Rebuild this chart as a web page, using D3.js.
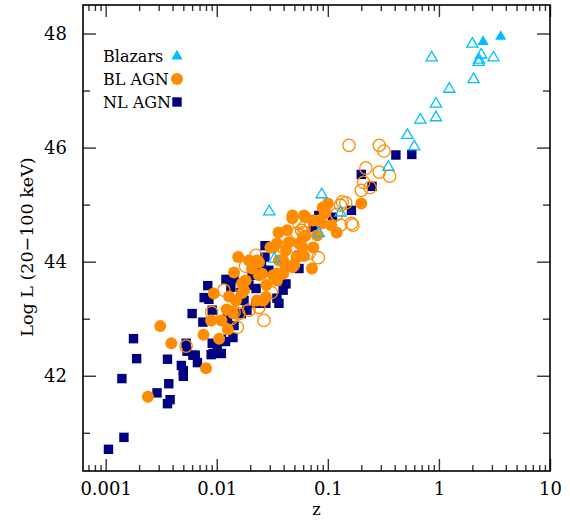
<!DOCTYPE html>
<html>
<head>
<meta charset="utf-8">
<script src="https://cdn.jsdelivr.net/npm/d3@7"></script>
<style>
  body { margin: 0; background: #fff; }
  text { font-family: "DejaVu Serif", serif; fill: #000; }
</style>
</head>
<body>
<script>

// NL AGN (navy squares): redshift and log luminosity
let nlZ = [0.00106, 0.00146, 0.0014, 0.00178, 0.0019, 0.0029, 0.0037, 0.0038, 0.0036, 0.0036,
  0.0048, 0.005, 0.005, 0.0053, 0.0054, 0.0064, 0.006, 0.0083, 0.0077, 0.0085,
  0.0121, 0.0143, 0.0091, 0.0075, 0.0091, 0.0089, 0.011, 0.0101, 0.011, 0.014,
  0.0126, 0.0187, 0.0226, 0.0272, 0.0253, 0.0348, 0.0363, 0.0277, 0.0396, 0.083,
  0.074, 0.0295, 0.0208, 0.0176, 0.0226, 0.41, 0.57, 0.20, 0.25, 0.163,
  0.110, 0.0134, 0.0272, 0.055, 0.042, 0.055, 0.0195, 0.0165, 0.0143, 0.0166,
  0.0093, 0.0061, 0.0067, 0.0125, 0.012];
let nlLum = [40.71, 40.92, 41.95, 42.65, 42.30, 41.70, 41.86, 41.58, 41.51, 42.29,
  42.18, 41.99, 42.09, 42.57, 42.43, 42.36, 43.09, 43.58, 43.37, 43.34,
  43.69, 43.71, 43.15, 42.94, 42.57, 42.37, 42.39, 42.50, 42.64, 42.67,
  43.11, 43.15, 43.53, 44.08, 43.94, 43.36, 43.27, 43.27, 43.50, 44.81,
  44.60, 43.85, 43.76, 43.32, 43.27, 45.87, 45.88, 45.53, 45.32, 44.90,
  44.78, 43.55, 44.28, 44.11, 43.61, 43.88, 43.59, 43.46, 42.88, 43.09,
  42.39, 42.36, 42.23, 43.00, 42.60];

// BL AGN, filled circles
let blZ = [0.0024, 0.0031, 0.0039, 0.008, 0.0076, 0.0089, 0.0094, 0.0123, 0.0105, 0.0126,
  0.0129, 0.0156, 0.0195, 0.0182, 0.0176, 0.0208, 0.024, 0.024, 0.023, 0.0262,
  0.0277, 0.0322, 0.0348, 0.0447, 0.055, 0.063, 0.048, 0.063, 0.0363, 0.042,
  0.0348, 0.0322, 0.0396, 0.072, 0.0524, 0.059, 0.090, 0.082, 0.100, 0.094,
  0.20, 0.12, 0.107, 0.0169, 0.0149, 0.011, 0.0143, 0.028, 0.042, 0.050,
  0.074, 0.061, 0.043, 0.036, 0.048, 0.061, 0.074, 0.094, 0.0304, 0.023,
  0.0396, 0.048, 0.0256, 0.0348, 0.060, 0.080, 0.088, 0.0169, 0.014];
let blLum = [41.63, 42.87, 42.57, 42.13, 42.72, 42.97, 43.44, 43.16, 42.65, 42.81,
  43.39, 44.08, 44.02, 43.67, 43.50, 43.88, 43.99, 43.76, 43.32, 43.32,
  43.38, 44.25, 44.32, 44.34, 44.32, 44.46, 44.76, 44.78, 44.02, 43.90,
  43.67, 43.76, 43.79, 43.88, 44.08, 44.25, 44.95, 44.72, 45.02, 44.88,
  45.02, 44.51, 44.64, 43.62, 43.32, 42.97, 43.81, 43.59, 44.20, 43.94,
  44.25, 44.10, 44.55, 44.51, 44.81, 44.81, 44.72, 44.85, 44.25, 44.02,
  44.02, 43.90, 43.79, 43.79, 44.43, 44.46, 44.67, 43.45, 43.10];

// BL AGN, open circles
let blOpenZ = [0.0053, 0.009, 0.0153, 0.0158, 0.0195, 0.0143, 0.024, 0.058, 0.068, 0.0396,
  0.055, 0.061, 0.053, 0.043, 0.061, 0.074, 0.082, 0.13, 0.168, 0.135,
  0.145, 0.13, 0.155, 0.29, 0.32, 0.22, 0.29, 0.36, 0.21, 0.20,
  0.24, 0.163, 0.12, 0.0182, 0.0226, 0.0116, 0.0266, 0.031, 0.0135];
let blOpenLum = [42.52, 43.11, 42.85, 43.09, 43.15, 43.11, 43.20, 44.55, 44.15, 44.25,
  44.67, 44.51, 44.50, 44.11, 44.60, 44.55, 44.07, 44.64, 44.64, 45.05,
  45.03, 44.99, 46.04, 46.04, 45.94, 45.64, 45.57, 45.50, 45.39, 45.25,
  45.30, 44.67, 44.83, 43.92, 44.11, 43.50, 42.97, 43.46, 43.00];

// Blazars, open and filled triangles
let blzOpenZ = [0.86, 2.0, 2.4, 2.3, 2.28, 3.1, 2.05, 1.24, 0.94, 0.94,
  0.68, 0.52, 0.6, 0.35, 0.088, 0.13, 0.083, 0.0297, 0.033];
let blzOpenLum = [47.58, 47.82, 47.63, 47.54, 47.50, 47.58, 47.20, 47.03, 46.77, 46.53,
  46.49, 46.22, 46.02, 45.66, 45.18, 44.86, 44.50, 44.88, 44.05];
let blzZ = [2.5, 3.6];
let blzLum = [47.86, 47.95];

// axes
let xMajor = [0.001, 0.01, 0.1, 1, 10];
let xTickLabels = ['0.001', '0.01', '0.1', '1', '10'];
let yMajor = [42, 44, 46, 48];
let yMinor = [41, 43, 45, 47];
let legendNames = ['Blazars', 'BL AGN', 'NL AGN'];

let navy = '#000080', orange = '#ff8c00', cyan = '#00bfff';

let pLeft = 83, pRight = 550, pTop = 5, pBottom = 471;

let svg = d3.select('body')
  .append('svg')
  .attr('width', 570)
  .attr('height', 520);

let x = d3.scaleLog().domain([0.000625, 10]).range([pLeft, pRight]);
let y = d3.scaleLinear().domain([40.33, 48.5]).range([pBottom, pTop]);

// minor x ticks 2..9 in each decade
let xMinor = [];
[0.0001, 0.001, 0.01, 0.1, 1].forEach(function(p) {
  for (let m = 2; m < 10; m++) {
    let v = m * p;
    if (v > 0.000625 && v < 10) xMinor.push(v);
  }
});

function tickStyle(g) {
  g.select('.domain').remove();
  g.selectAll('line').attr('stroke', '#333').attr('stroke-width', 1.4);
  g.selectAll('text').style('font-size', '18px').style('font-family', '"DejaVu Serif", serif');
}

// bottom
svg.append('g').attr('transform', `translate(0,${pBottom})`)
  .call(d3.axisBottom(x).tickValues(xMajor).tickSize(-12).tickPadding(11)
    .tickFormat(function(d, i) { return xTickLabels[i]; }))
  .call(tickStyle);
svg.append('g').attr('transform', `translate(0,${pBottom})`)
  .call(d3.axisBottom(x).tickValues(xMinor).tickSize(-6).tickFormat(''))
  .call(tickStyle);
// top
svg.append('g').attr('transform', `translate(0,${pTop})`)
  .call(d3.axisTop(x).tickValues(xMajor).tickSize(-12).tickFormat(''))
  .call(tickStyle);
svg.append('g').attr('transform', `translate(0,${pTop})`)
  .call(d3.axisTop(x).tickValues(xMinor).tickSize(-6).tickFormat(''))
  .call(tickStyle);
// left
svg.append('g').attr('transform', `translate(${pLeft},0)`)
  .call(d3.axisLeft(y).tickValues(yMajor).tickSize(-13).tickPadding(16)
    .tickFormat(d3.format('d')))
  .call(tickStyle);
svg.append('g').attr('transform', `translate(${pLeft},0)`)
  .call(d3.axisLeft(y).tickValues(yMinor).tickSize(-7).tickFormat(''))
  .call(tickStyle);
// right
svg.append('g').attr('transform', `translate(${pRight},0)`)
  .call(d3.axisRight(y).tickValues(yMajor).tickSize(-13).tickFormat(''))
  .call(tickStyle);
svg.append('g').attr('transform', `translate(${pRight},0)`)
  .call(d3.axisRight(y).tickValues(yMinor).tickSize(-7).tickFormat(''))
  .call(tickStyle);

// frame
svg.append('rect')
  .attr('x', pLeft).attr('y', pTop)
  .attr('width', pRight - pLeft).attr('height', pBottom - pTop)
  .attr('fill', 'none').attr('stroke', '#000').attr('stroke-width', 1.6);

let plot = svg.append('g');
let tri = 'M0,-6.2L5.6,3.4L-5.6,3.4Z';

// NL AGN
plot.selectAll('rect.nl')
  .data(nlZ)
  .enter()
  .append('rect')
  .attr('class', 'nl')
  .attr('x', function(d) { return x(d) - 4.7; })
  .attr('y', function(d, i) { return y(nlLum[i]) - 4.7; })
  .attr('width', 9.4).attr('height', 9.4)
  .attr('fill', navy);

// BL AGN filled
plot.selectAll('circle.bl')
  .data(blZ)
  .enter()
  .append('circle')
  .attr('class', 'bl')
  .attr('cx', function(d) { return x(d); })
  .attr('cy', function(d, i) { return y(blLum[i]); })
  .attr('r', 6)
  .attr('fill', orange);

// BL AGN open
plot.selectAll('circle.blo')
  .data(blOpenZ)
  .enter()
  .append('circle')
  .attr('class', 'blo')
  .attr('cx', function(d) { return x(d); })
  .attr('cy', function(d, i) { return y(blOpenLum[i]); })
  .attr('r', 6.2)
  .attr('fill', 'none')
  .attr('stroke', orange)
  .attr('stroke-width', 1.3);

// Blazars
plot.selectAll('path.blzo')
  .data(blzOpenZ)
  .enter()
  .append('path')
  .attr('class', 'blzo')
  .attr('d', tri)
  .attr('transform', function(d, i) { return `translate(${x(d)},${y(blzOpenLum[i])})`; })
  .attr('fill', 'none')
  .attr('stroke', cyan)
  .attr('stroke-width', 1.3);

plot.selectAll('path.blz')
  .data(blzZ)
  .enter()
  .append('path')
  .attr('class', 'blz')
  .attr('d', tri)
  .attr('transform', function(d, i) { return `translate(${x(d)},${y(blzLum[i])})`; })
  .attr('fill', cyan);

// legend
let legend = svg.append('g').attr('transform', 'translate(103,0)');
legendNames.forEach(function(name, i) {
  let ly = 56 + i * 23;
  legend.append('text')
    .attr('x', 0).attr('y', ly)
    .attr('dy', '0.36em')
    .style('font-size', '16px')
    .text(name);
});
legend.append('path').attr('d', tri).attr('transform', 'translate(74,56)').attr('fill', cyan);
legend.append('circle').attr('cx', 74).attr('cy', 79).attr('r', 6).attr('fill', orange);
legend.append('rect').attr('x', 69.3).attr('y', 97.3).attr('width', 9.4).attr('height', 9.4).attr('fill', navy);

// axis labels
svg.append('text')
  .attr('x', (pLeft + pRight) / 2)
  .attr('y', 515)
  .style('text-anchor', 'middle')
  .style('font-size', '16px')
  .text('z');

svg.append('text')
  .attr('transform', 'translate(27,247)rotate(-90)')
  .attr('dy', '0.36em')
  .style('text-anchor', 'middle')
  .style('font-size', '17.5px')
  .text('Log L (20\u2212100 keV)');

</script>
</body>
</html>
